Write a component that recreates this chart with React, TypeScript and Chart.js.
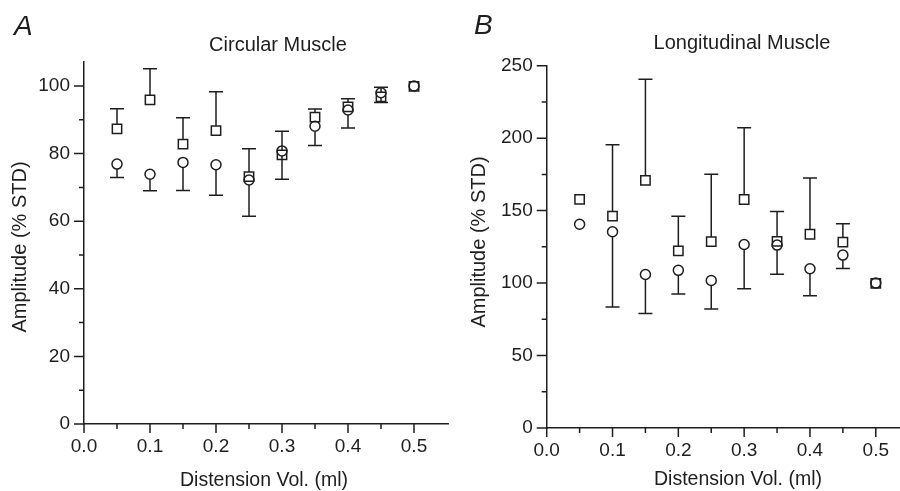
import React, { useEffect, useRef } from 'react';
import { Chart, registerables } from 'chart.js';

Chart.register(...registerables);

// ---------- data ----------
const distensionVol = [0.05, 0.1, 0.15, 0.2, 0.25, 0.3, 0.35, 0.4, 0.45, 0.5];

// Panel A – Circular Muscle
const circSquareMean = [87.3, 95.9, 82.8, 86.8, 73.2, 79.6, 90.8, 93.8, 96.8, 99.9];
const circSquareUpper = [93.3, 105.1, 90.6, 98.3, 81.4, 86.6, 93.2, 96.2, 99.6, null];
const circCircleMean = [76.9, 73.9, 77.4, 76.7, 72.2, 80.8, 88.1, 92.9, 98.0, 100];
const circCircleLower = [72.9, 69.0, 69.1, 67.7, 61.5, 72.4, 82.4, 87.6, 95.1, null];

// Panel B – Longitudinal Muscle
const longSquareMean = [157.8, 146.2, 170.9, 122.2, 128.6, 157.7, 128.8, 133.7, 128.3, 99.8];
const longSquareUpper = [null, 195.4, 240.7, 146.1, 175.1, 207.1, 149.4, 172.5, 141.0, null];
const longCircleMean = [140.6, 135.4, 105.9, 108.8, 101.8, 126.6, 126.2, 109.9, 119.3, 100];
const longCircleLower = [null, 83.5, 79.0, 92.4, 82.1, 96.1, 106.1, 91.2, 110.0, null];

// ticks
const xMajorTicks = [0, 0.1, 0.2, 0.3, 0.4, 0.5];
const xMinorTicks = [0.05, 0.15, 0.25, 0.35, 0.45];
const circYMajor = [0, 20, 40, 60, 80, 100];
const circYMinor = [10, 30, 50, 70, 90];
const longYMajor = [0, 50, 100, 150, 200, 250];
const longYMinor = [25, 75, 125, 175, 225];

const INK = '#1e1e1e';
const FONT = '"Liberation Sans", Arial, Helvetica, sans-serif';
const SQ_RADIUS = 6.6; // chart.js rect: half side = r * SQRT1_2
const SQ_HALF = SQ_RADIUS * Math.SQRT1_2;
const CI_RADIUS = 5;
const CAP_HALF = 7;

type Panel = {
  letter: string;
  title: string;
  xLabel: string;
  yLabel: string;
  xMax: number;
  yMax: number;
  yMajor: number[];
  yMinor: number[];
  sqMean: number[];
  sqUpper: (number | null)[];
  ciMean: number[];
  ciLower: (number | null)[];
  yWidth: number;
  xHeight: number;
  padTop: number;
  padRight: number;
  letterPos: [number, number];
  titlePos: [number, number];
  xLabelPos: [number, number];
  yLabelPos: [number, number];
};

const panels: Panel[] = [
  {
    letter: 'A',
    title: 'Circular Muscle',
    xLabel: 'Distension Vol. (ml)',
    yLabel: 'Amplitude (% STD)',
    xMax: 0.5515,
    yMax: 107.1,
    yMajor: circYMajor,
    yMinor: circYMinor,
    sqMean: circSquareMean,
    sqUpper: circSquareUpper,
    ciMean: circCircleMean,
    ciLower: circCircleLower,
    yWidth: 84,
    xHeight: 67,
    padTop: 62,
    padRight: 2,
    letterPos: [14, 35],
    titlePos: [278, 50.5],
    xLabelPos: [264, 486],
    yLabelPos: [20, 247],
  },
  {
    letter: 'B',
    title: 'Longitudinal Muscle',
    xLabel: 'Distension Vol. (ml)',
    yLabel: 'Amplitude (% STD)',
    xMax: 0.5353,
    yMax: 250,
    yMajor: longYMajor,
    yMinor: longYMinor,
    sqMean: longSquareMean,
    sqUpper: longSquareUpper,
    ciMean: longCircleMean,
    ciLower: longCircleLower,
    yWidth: 96.7,
    xHeight: 63,
    padTop: 65.7,
    padRight: 0,
    letterPos: [24, 34],
    titlePos: [292, 48.5],
    xLabelPos: [288, 485],
    yLabelPos: [29.5, 242],
  },
];

function makePlugin(p: Panel) {
  return {
    id: 'panelDecor' + p.letter,
    afterDatasetsDraw(chart: any) {
      const { ctx } = chart;
      const x = chart.scales.x;
      const y = chart.scales.y;
      ctx.save();
      ctx.strokeStyle = INK;
      ctx.lineWidth = 1.5;
      distensionVol.forEach((xv, i) => {
        const px = x.getPixelForValue(xv);
        const su = p.sqUpper[i];
        if (su != null) {
          const py0 = y.getPixelForValue(p.sqMean[i]) - SQ_HALF;
          const py1 = y.getPixelForValue(su);
          ctx.beginPath();
          if (py1 < py0) {
            ctx.moveTo(px, py0);
            ctx.lineTo(px, py1);
          }
          ctx.moveTo(px - CAP_HALF, py1);
          ctx.lineTo(px + CAP_HALF, py1);
          ctx.stroke();
        }
        const cl = p.ciLower[i];
        if (cl != null) {
          const py0 = y.getPixelForValue(p.ciMean[i]) + CI_RADIUS;
          const py1 = y.getPixelForValue(cl);
          ctx.beginPath();
          if (py1 > py0) {
            ctx.moveTo(px, py0);
            ctx.lineTo(px, py1);
          }
          ctx.moveTo(px - CAP_HALF, py1);
          ctx.lineTo(px + CAP_HALF, py1);
          ctx.stroke();
        }
      });
      ctx.restore();
    },
    afterDraw(chart: any) {
      const { ctx, chartArea } = chart;
      const x = chart.scales.x;
      const y = chart.scales.y;
      ctx.save();
      ctx.strokeStyle = INK;
      ctx.lineWidth = 1.5;
      ctx.beginPath();
      p.yMajor.forEach((v) => {
        const py = y.getPixelForValue(v);
        ctx.moveTo(chartArea.left - 10, py);
        ctx.lineTo(chartArea.left, py);
      });
      p.yMinor.forEach((v) => {
        const py = y.getPixelForValue(v);
        ctx.moveTo(chartArea.left - 5, py);
        ctx.lineTo(chartArea.left, py);
      });
      xMajorTicks.forEach((v) => {
        const px = x.getPixelForValue(v);
        ctx.moveTo(px, chartArea.bottom);
        ctx.lineTo(px, chartArea.bottom + 9);
      });
      xMinorTicks.forEach((v) => {
        const px = x.getPixelForValue(v);
        ctx.moveTo(px, chartArea.bottom);
        ctx.lineTo(px, chartArea.bottom + 5);
      });
      ctx.stroke();

      ctx.fillStyle = INK;
      // panel letter
      ctx.font = `italic 28px ${FONT}`;
      ctx.textAlign = 'left';
      ctx.textBaseline = 'alphabetic';
      ctx.fillText(p.letter, p.letterPos[0], p.letterPos[1]);
      // title
      ctx.font = `20px ${FONT}`;
      ctx.textAlign = 'center';
      ctx.fillText(p.title, p.titlePos[0], p.titlePos[1]);
      // x label
      ctx.font = `19.5px ${FONT}`;
      ctx.fillText(p.xLabel, p.xLabelPos[0], p.xLabelPos[1]);
      // y label
      ctx.translate(p.yLabelPos[0], p.yLabelPos[1]);
      ctx.rotate(-Math.PI / 2);
      ctx.textBaseline = 'middle';
      ctx.font = `20px ${FONT}`;
      ctx.fillText(p.yLabel, 0, 0);
      ctx.restore();
    },
  };
}

function PanelChart({ p, left }: { p: Panel; left: number }) {
  const ref = useRef<HTMLCanvasElement | null>(null);
  useEffect(() => {
    if (!ref.current) return;
    const chart = new Chart(ref.current, {
      type: 'scatter',
      data: {
        datasets: [
          {
            label: 'squares',
            data: distensionVol.map((xv, i) => ({ x: xv, y: p.sqMean[i] })),
            pointStyle: 'rect',
            pointRadius: SQ_RADIUS,
            pointBorderWidth: 1.5,
            borderColor: INK,
            backgroundColor: 'rgba(0,0,0,0)',
            showLine: false,
          },
          {
            label: 'circles',
            data: distensionVol.map((xv, i) => ({ x: xv, y: p.ciMean[i] })),
            pointStyle: 'circle',
            pointRadius: CI_RADIUS,
            pointBorderWidth: 1.5,
            borderColor: INK,
            backgroundColor: 'rgba(0,0,0,0)',
            showLine: false,
          },
        ],
      },
      options: {
        animation: false,
        responsive: false,
        maintainAspectRatio: false,
        events: [],
        layout: { autoPadding: false, padding: { top: p.padTop, right: p.padRight, left: 0, bottom: 0 } },
        plugins: { legend: { display: false }, tooltip: { enabled: false }, title: { display: false } },
        scales: {
          x: {
            type: 'linear',
            min: 0,
            max: p.xMax,
            grid: { display: false, drawTicks: false },
            border: { display: true, color: INK, width: 1.5 },
            afterBuildTicks: (scale: any) => {
              scale.ticks = xMajorTicks.map((v) => ({ value: v }));
            },
            afterFit: (scale: any) => {
              scale.height = p.xHeight;
            },
            ticks: {
              autoSkip: false,
              maxRotation: 0,
              padding: 11,
              color: INK,
              font: { family: FONT, size: 19 },
              callback: (v: any) => Number(v).toFixed(1),
            },
          },
          y: {
            type: 'linear',
            min: 0,
            max: p.yMax,
            grid: { display: false, drawTicks: false },
            border: { display: true, color: INK, width: 1.5 },
            afterBuildTicks: (scale: any) => {
              scale.ticks = p.yMajor.map((v) => ({ value: v }));
            },
            afterFit: (scale: any) => {
              scale.width = p.yWidth;
            },
            ticks: {
              autoSkip: false,
              padding: 14,
              color: INK,
              font: { family: FONT, size: 19 },
              callback: (v: any) => String(v),
            },
          },
        },
      },
      plugins: [makePlugin(p)],
    } as any);
    return () => chart.destroy();
  }, [p]);
  return (
    <canvas
      ref={ref}
      width={450}
      height={491}
      style={{ position: 'absolute', left, top: 0, width: 450, height: 491 }}
    />
  );
}

export default function App() {
  return (
    <div style={{ position: 'absolute', left: 0, top: 0, width: 900, height: 491, background: '#fff', overflow: 'hidden' }}>
      <PanelChart p={panels[0]} left={0} />
      <PanelChart p={panels[1]} left={450} />
    </div>
  );
}
